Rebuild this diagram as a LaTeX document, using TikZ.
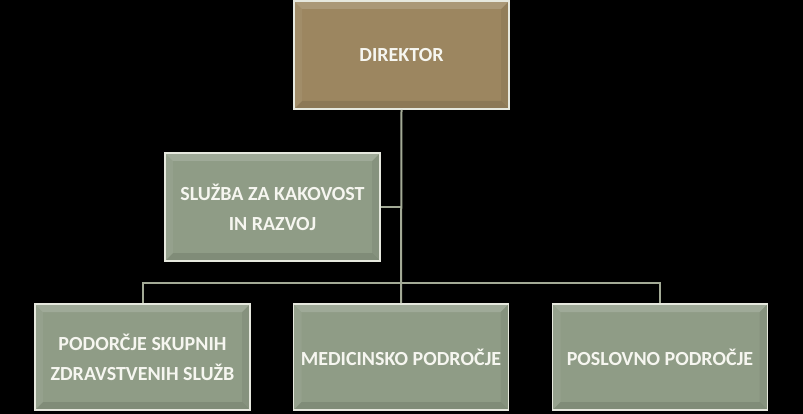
\documentclass[tikz,border=0pt]{standalone}
\usepackage{fontspec}
\setmainfont{Carlito}
\begin{document}
\begin{tikzpicture}[x=1pt,y=-1pt,
  box/.style={draw=boxline,line width=1.6pt,minimum width=215pt,minimum height=106pt,
    inner sep=0pt,text=textcol,font=\bfseries\fontsize{20}{30}\selectfont,align=center,
    path picture={
      \fill[white,opacity=0.15] (path picture bounding box.north west) -- (path picture bounding box.north east) -- ([xshift=-8pt,yshift=-8pt]path picture bounding box.north east) -- ([xshift=8pt,yshift=-8pt]path picture bounding box.north west) -- cycle;
      \fill[black,opacity=0.10] (path picture bounding box.south west) -- (path picture bounding box.south east) -- ([xshift=-8pt,yshift=8pt]path picture bounding box.south east) -- ([xshift=8pt,yshift=8pt]path picture bounding box.south west) -- cycle;
      \fill[white,opacity=0.06] (path picture bounding box.north west) -- (path picture bounding box.south west) -- ([xshift=8pt,yshift=8pt]path picture bounding box.south west) -- ([xshift=8pt,yshift=-8pt]path picture bounding box.north west) -- cycle;
      \fill[black,opacity=0.06] (path picture bounding box.north east) -- (path picture bounding box.south east) -- ([xshift=-8pt,yshift=8pt]path picture bounding box.south east) -- ([xshift=-8pt,yshift=-8pt]path picture bounding box.north east) -- cycle;
    }},
  greenbox/.style={box,fill=greenfill},
  brownbox/.style={box,fill=brownfill},
  conn/.style={draw=connline,line width=2pt}]
\definecolor{boxline}{HTML}{E6E8DE}
\definecolor{greenfill}{HTML}{8F9C86}
\definecolor{brownfill}{HTML}{9C8660}
\definecolor{connline}{HTML}{A3AA96}
\definecolor{textcol}{HTML}{F6F6F0}
\fill[black] (0,0) rectangle (803,414);
\useasboundingbox (0,0) rectangle (803,414);
\coordinate (bus) at (401,283);
\node[brownbox,minimum height=108pt] (dir) at (401.5,55) {DIREKTOR};
\node[greenbox,minimum height=108pt] (svc) at (272.5,207) {SLUŽBA ZA KAKOVOST\\IN RAZVOJ};
\node[greenbox] (left) at (142.5,357) {PODORČJE SKUPNIH\\ZDRAVSTVENIH SLUŽB};
\node[greenbox] (med) at (401,357) {MEDICINSKO PODROČJE};
\node[greenbox] (right) at (660,357) {POSLOVNO PODROČJE};
\draw[conn] (dir.south) -- (med.north);
\draw[conn] (svc.east) -- (svc.east -| dir.south);
\draw[conn] (left.north) |- (bus) -| (right.north);
\end{tikzpicture}
\end{document}
